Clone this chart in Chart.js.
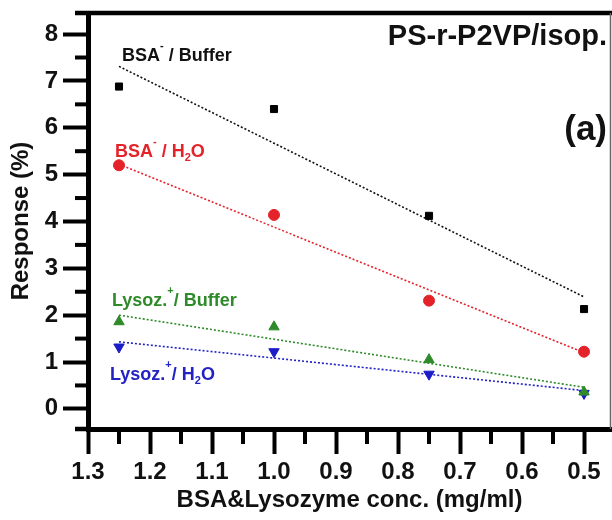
<!DOCTYPE html>
<html>
<head>
<meta charset="utf-8">
<script src="https://cdn.jsdelivr.net/npm/chart.js@4.4.1/dist/chart.umd.min.js"></script>
<style>
  html, body { margin: 0; padding: 0; background: #fff; }
  #wrap { width: 612px; height: 520px; }
</style>
</head>
<body>
<div id="wrap"><canvas id="respChart" width="612" height="520"></canvas></div>
<script>
// concentrations (mg/ml)
var conc = [1.25, 1.0, 0.75, 0.5];
// response (%) per series
var bsaBuffer = [6.88, 6.40, 4.12, 2.13];
var bsaWater = [5.20, 4.14, 2.31, 1.22];
var lysBuffer = [1.86, 1.75, 1.05, 0.36];
var lysWater = [1.32, 1.22, 0.74, 0.33];
// fitted lines, read at the ends of the range
var fitEnds = [1.25, 0.5];
var bsaBufferFit = [7.31, 2.39];
var bsaWaterFit = [5.22, 1.20];
var lysBufferFit = [2.00, 0.46];
var lysWaterFit = [1.43, 0.39];
// ticks
var xTicks = [1.3, 1.2, 1.1, 1.0, 0.9, 0.8, 0.7, 0.6, 0.5];
var xMinor = [1.25, 1.15, 1.05, 0.95, 0.85, 0.75, 0.65, 0.55];
var yTicks = [0, 1, 2, 3, 4, 5, 6, 7, 8];
var yMinor = [0.5, 1.5, 2.5, 3.5, 4.5, 5.5, 6.5, 7.5];

var FONT = "'Liberation Sans', Arial, sans-serif";

function pts(xs, ys) {
    return xs.map(function(x, i) { return {x: x, y: ys[i]}; });
}

function fitSet(ys, color) {
    return {
        type: 'line', data: pts(fitEnds, ys), borderColor: color, borderWidth: 1.6,
        borderDash: [2, 2], pointRadius: 0, fill: false, order: 2
    };
}

function markSet(ys, color, style, r, rot) {
    return {
        type: 'scatter', data: pts(conc, ys), backgroundColor: color, borderColor: color,
        pointStyle: style, pointRadius: r, pointRotation: rot || 0, borderWidth: 1, order: 1
    };
}

// labels next to the series: pieces with sup / sub parts
var notes = [
    {x: 122, y: 61, color: '#111', parts: [['BSA'], ['-', 'sup'], [' / Buffer']]},
    {x: 115, y: 157, color: '#e4222a', parts: [['BSA'], ['-', 'sup'], [' / H'], ['2', 'sub'], ['O']]},
    {x: 112, y: 306, color: '#2f8a2a', parts: [['Lysoz.'], ['+', 'sup'], ['/ Buffer']]},
    {x: 110, y: 380, color: '#2323c4', parts: [['Lysoz.'], ['+', 'sup'], ['/ H'], ['2', 'sub'], ['O']]}
];

var decor = {
    id: 'decor',
    afterDraw: function(chart) {
        var ctx = chart.ctx, a = chart.chartArea;
        var xs = chart.scales.x, ys = chart.scales.y;
        ctx.save();
        ctx.strokeStyle = '#000';
        ctx.lineWidth = 4;
        // minor ticks
        xMinor.forEach(function(v) {
            var p = xs.getPixelForValue(v);
            ctx.beginPath(); ctx.moveTo(p, a.bottom); ctx.lineTo(p, a.bottom + 15); ctx.stroke();
        });
        yMinor.forEach(function(v) {
            var p = ys.getPixelForValue(v);
            ctx.beginPath(); ctx.moveTo(a.left, p); ctx.lineTo(a.left - 13, p); ctx.stroke();
        });
        // top frame and axis stubs
        ctx.lineWidth = 4.5;
        ctx.beginPath(); ctx.moveTo(a.left - 13, a.top); ctx.lineTo(a.right + 2, a.top); ctx.stroke();
        ctx.beginPath(); ctx.moveTo(a.left - 13, a.bottom); ctx.lineTo(a.left, a.bottom); ctx.stroke();
        ctx.strokeStyle = '#666';
        ctx.lineWidth = 1.5;
        ctx.beginPath(); ctx.moveTo(a.right - 0.5, a.top); ctx.lineTo(a.right - 0.5, a.bottom); ctx.stroke();

        // titles
        ctx.fillStyle = '#111';
        ctx.textAlign = 'right';
        ctx.textBaseline = 'alphabetic';
        ctx.font = 'bold 29px ' + FONT;
        ctx.fillText('PS-r-P2VP/isop.', 607, 45);
        ctx.font = 'bold 35px ' + FONT;
        ctx.fillText('(a)', 607, 140);

        // series notes
        ctx.textAlign = 'left';
        notes.forEach(function(n) {
            var x = n.x;
            ctx.fillStyle = n.color;
            n.parts.forEach(function(p) {
                var dy = 0;
                if (p[1] === 'sup') { ctx.font = 'bold 11px ' + FONT; dy = -12; }
                else if (p[1] === 'sub') { ctx.font = 'bold 11px ' + FONT; dy = 4; }
                else { ctx.font = 'bold 18px ' + FONT; }
                ctx.fillText(p[0], x, n.y + dy);
                x += ctx.measureText(p[0]).width;
            });
        });
        ctx.restore();
    }
};

var ctx = document.getElementById('respChart').getContext('2d');
var respChart = new Chart(ctx, {
    data: {
        datasets: [
            fitSet(bsaBufferFit, '#111'),
            fitSet(bsaWaterFit, '#e4222a'),
            fitSet(lysBufferFit, '#2f8a2a'),
            fitSet(lysWaterFit, '#2323c4'),
            markSet(bsaBuffer, '#000', 'rect', 5),
            markSet(bsaWater, '#e4222a', 'circle', 5.5),
            markSet(lysBuffer, '#2f8a2a', 'triangle', 6),
            markSet(lysWater, '#1c1cc8', 'triangle', 6, 180)
        ]
    },
    plugins: [decor],
    options: {
        responsive: false,
        animation: false,
        layout: { autoPadding: false, padding: { top: 13, right: 1, left: 0, bottom: 0 } },
        plugins: { legend: { display: false }, tooltip: { enabled: false } },
        scales: {
            x: {
                type: 'linear',
                position: 'bottom',
                reverse: true,
                min: 0.4565,
                max: 1.3,
                afterBuildTicks: function(scale) {
                    scale.ticks = xTicks.map(function(v) { return {value: v}; });
                },
                afterFit: function(scale) {
                    scale.height = 91;
                    scale.paddingLeft = 0;
                    scale.paddingRight = 0;
                },
                grid: { drawOnChartArea: false, tickLength: 25, tickWidth: 4, tickColor: '#000' },
                border: { width: 5, color: '#000' },
                ticks: {
                    color: '#111', padding: 4, maxRotation: 0,
                    font: { family: FONT, size: 24, weight: 'bold' },
                    callback: function(v) { return Number(v).toFixed(1); }
                },
                title: {
                    display: true, text: 'BSA&Lysozyme conc. (mg/ml)', color: '#111',
                    font: { family: FONT, size: 24, weight: 'bold' },
                    padding: { top: 0, bottom: 5 }
                }
            },
            y: {
                type: 'linear',
                position: 'left',
                min: -0.43,
                max: 8.45,
                afterBuildTicks: function(scale) {
                    scale.ticks = yTicks.map(function(v) { return {value: v}; });
                },
                afterFit: function(scale) {
                    scale.width = 88;
                    scale.paddingTop = 0;
                    scale.paddingBottom = 0;
                },
                grid: { drawOnChartArea: false, tickLength: 25, tickWidth: 4, tickColor: '#000' },
                border: { width: 5, color: '#000' },
                ticks: {
                    color: '#111', padding: 5,
                    font: { family: FONT, size: 24, weight: 'bold' },
                    callback: function(v) { return String(v); }
                },
                title: {
                    display: true, text: 'Response (%)', color: '#111',
                    font: { family: FONT, size: 24, weight: 'bold' },
                    padding: { top: 7, bottom: 0 }
                }
            }
        }
    }
});
</script>
</body>
</html>
